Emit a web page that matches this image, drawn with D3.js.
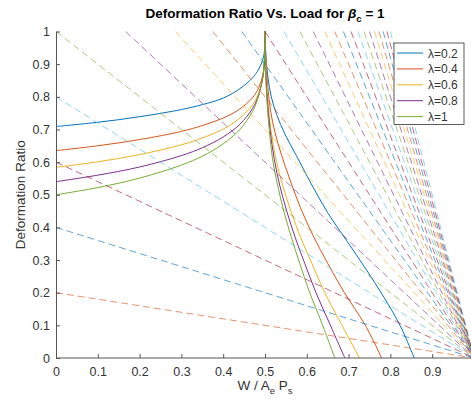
<!DOCTYPE html>
<html>
<head>
<meta charset="utf-8">
<script src="https://cdn.jsdelivr.net/npm/d3@7"></script>
<style>
body { margin: 0; background: #fff; }
svg { display: block; }
text { font-family: 'Liberation Sans', Arial, Helvetica, sans-serif; }
</style>
</head>
<body>
<div id="chart"></div>
<script>
// solid curves, one per lambda
var lambdaLabels = ['λ=0.2', 'λ=0.4', 'λ=0.6', 'λ=0.8', 'λ=1'];

// rising part, shared x positions
var leftX = [0, 0.1, 0.2, 0.3, 0.35, 0.4, 0.44, 0.47, 0.485, 0.495, 0.499, 0.5];
var leftY02 = [0.709, 0.722, 0.739, 0.761, 0.776, 0.796, 0.825, 0.858, 0.885, 0.915, 0.945, 1.0];
var leftY04 = [0.635, 0.650, 0.669, 0.694, 0.712, 0.735, 0.763, 0.797, 0.828, 0.869, 0.913, 1.0];
var leftY06 = [0.584, 0.601, 0.623, 0.653, 0.674, 0.701, 0.735, 0.775, 0.812, 0.860, 0.911, 1.0];
var leftY08 = [0.540, 0.560, 0.585, 0.620, 0.644, 0.677, 0.716, 0.764, 0.806, 0.861, 0.917, 1.0];
var leftY10 = [0.500, 0.522, 0.551, 0.591, 0.618, 0.656, 0.700, 0.755, 0.803, 0.864, 0.923, 1.0];

// falling part [x, y]
var right02 = [[0.5, 1], [0.502, 0.93], [0.507, 0.86], [0.515, 0.8], [0.528, 0.745], [0.548, 0.685], [0.575, 0.62],
  [0.61, 0.535], [0.65, 0.445], [0.695, 0.36], [0.74, 0.275], [0.785, 0.185], [0.825, 0.095], [0.857, 0]];
var right04 = [[0.5, 1], [0.502, 0.92], [0.506, 0.84], [0.513, 0.76], [0.524, 0.69], [0.54, 0.62], [0.56, 0.545],
  [0.585, 0.46], [0.615, 0.375], [0.65, 0.29], [0.69, 0.2], [0.74, 0.1], [0.779, 0]];
var right06 = [[0.5, 1], [0.502, 0.9], [0.506, 0.8], [0.514, 0.7], [0.526, 0.61], [0.542, 0.53], [0.562, 0.45],
  [0.585, 0.37], [0.612, 0.29], [0.643, 0.2], [0.68, 0.11], [0.726, 0]];
var right08 = [[0.5, 1], [0.501, 0.9], [0.505, 0.8], [0.512, 0.7], [0.522, 0.61], [0.535, 0.53], [0.552, 0.45],
  [0.572, 0.37], [0.595, 0.29], [0.622, 0.2], [0.653, 0.11], [0.691, 0]];
var right10 = [[0.5, 1], [0.501, 0.9], [0.504, 0.8], [0.51, 0.7], [0.518, 0.61], [0.53, 0.53], [0.545, 0.45],
  [0.563, 0.37], [0.583, 0.29], [0.607, 0.2], [0.635, 0.11], [0.667, 0]];

// dashed load lines through (1,0), slope values in drawing order
var dashSlopes = [5.0, 4.8, 4.6, 4.4, 4.2, 4.0, 3.8, 3.6, 3.4, 3.2, 3.0, 2.8, 2.6, 2.4, 2.2,
  2.0, 1.8, 1.6, 1.4, 1.2, 1.0, 0.8, 0.6, 0.4, 0.2];

var xTicks = [0, 0.1, 0.2, 0.3, 0.4, 0.5, 0.6, 0.7, 0.8, 0.9];
var yTicks = [0, 0.1, 0.2, 0.3, 0.4, 0.5, 0.6, 0.7, 0.8, 0.9, 1];

var colors = ['#0072BD', '#D95319', '#EDB120', '#7E2F8E', '#77AC30', '#4DBEEE', '#A2142F'];

var width = 471, height = 408;
var margin = { top: 31.5, left: 56 };
var plotW = 418, plotH = 326.5;

var svg = d3.select('#chart').append('svg')
  .attr('width', width)
  .attr('height', height);

var xscale = d3.scaleLinear().domain([0, 1]).range([margin.left, margin.left + plotW]);
var yscale = d3.scaleLinear().domain([0, 1]).range([margin.top + plotH, margin.top]);

svg.append('clipPath').attr('id', 'plotclip')
  .append('rect')
  .attr('x', margin.left).attr('y', margin.top - 1)
  .attr('width', plotW).attr('height', plotH + 1);

var plot = svg.append('g').attr('clip-path', 'url(#plotclip)');

var line = d3.line()
  .x(function (d) { return xscale(d[0]); })
  .y(function (d) { return yscale(d[1]); });
var smooth = d3.line()
  .curve(d3.curveCatmullRom.alpha(0.5))
  .x(function (d) { return xscale(d[0]); })
  .y(function (d) { return yscale(d[1]); });

var leftYs = [leftY02, leftY04, leftY06, leftY08, leftY10];
var rights = [right02, right04, right06, right08, right10];

leftYs.forEach(function (ys, i) {
  var pts = leftX.map(function (x, j) { return [x, ys[j]]; });
  plot.append('path')
    .attr('d', smooth(pts))
    .attr('fill', 'none')
    .attr('stroke', colors[i])
    .attr('stroke-width', 1);
  plot.append('path')
    .attr('d', smooth(rights[i]))
    .attr('fill', 'none')
    .attr('stroke', colors[i])
    .attr('stroke-width', 1);
});

// dashed lines, dash pattern starts where the line enters the axes
dashSlopes.forEach(function (c, k) {
  var start = c > 1 ? [1 - 1 / c, 1] : [0, c];
  plot.append('path')
    .attr('d', line([start, [1, 0]]))
    .attr('fill', 'none')
    .attr('stroke', colors[(5 + k) % 7])
    .attr('stroke-width', 0.8)
    .attr('stroke-opacity', 0.8)
    .attr('stroke-dasharray', '7,4');
});

// axes
var axisColor = '#555';
var gx = svg.append('g')
  .attr('transform', 'translate(0,' + (margin.top + plotH) + ')')
  .call(d3.axisBottom(xscale).tickValues(xTicks).tickSizeInner(-4).tickSizeOuter(0).tickPadding(9.5)
    .tickFormat(function (d) { return String(d); }));
gx.select('.domain').attr('d', 'M' + margin.left + ',0H' + (margin.left + plotW));
var gy = svg.append('g')
  .attr('transform', 'translate(' + margin.left + ',0)')
  .call(d3.axisLeft(yscale).tickValues(yTicks).tickSizeInner(-4).tickSizeOuter(0).tickPadding(6)
    .tickFormat(function (d) { return String(d); }));
[gx, gy].forEach(function (g) {
  g.select('.domain').attr('stroke', axisColor);
  g.selectAll('.tick line').attr('stroke', axisColor);
  g.selectAll('.tick text').attr('fill', '#333').style('font-size', '12.5px')
    .style('font-family', "'Liberation Sans', Arial, sans-serif");
});

// title
var title = svg.append('text')
  .attr('x', margin.left + plotW / 2)
  .attr('y', 18)
  .attr('text-anchor', 'middle')
  .style('font-size', '13.5px')
  .style('font-weight', 'bold')
  .attr('fill', '#000');
title.append('tspan').text('Deformation Ratio Vs. Load for ');
title.append('tspan').text('β').style('font-style', 'italic');
title.append('tspan').text('c').attr('dy', 4).style('font-size', '9.5px');
title.append('tspan').text(' = 1').attr('dy', -4);

// axis labels
svg.append('text')
  .attr('transform', 'translate(25,' + (margin.top + plotH / 2) + ') rotate(-90)')
  .attr('text-anchor', 'middle')
  .style('font-size', '13.5px')
  .attr('fill', '#333')
  .text('Deformation Ratio');

var xl = svg.append('text')
  .attr('x', margin.left + plotW / 2)
  .attr('y', 390)
  .attr('text-anchor', 'middle')
  .style('font-size', '13.5px')
  .attr('fill', '#333');
xl.append('tspan').text('W / A');
xl.append('tspan').text('e').attr('dy', 4).style('font-size', '9.5px');
xl.append('tspan').text(' P').attr('dy', -4);
xl.append('tspan').text('s').attr('dy', 4).style('font-size', '9.5px');

// legend
var legend = svg.append('g');
legend.append('rect')
  .attr('x', 394).attr('y', 43)
  .attr('width', 70).attr('height', 81.5)
  .attr('fill', '#fff')
  .attr('stroke', '#333')
  .attr('stroke-width', 0.8);
lambdaLabels.forEach(function (lab, i) {
  var yy = 53 + i * 15.9;
  legend.append('line')
    .attr('x1', 397).attr('x2', 423)
    .attr('y1', yy).attr('y2', yy)
    .attr('stroke', colors[i])
    .attr('stroke-width', 1);
  legend.append('text')
    .attr('x', 428).attr('y', yy + 4.5)
    .style('font-size', '12px')
    .attr('fill', '#333')
    .text(lab);
});
</script>
</body>
</html>
